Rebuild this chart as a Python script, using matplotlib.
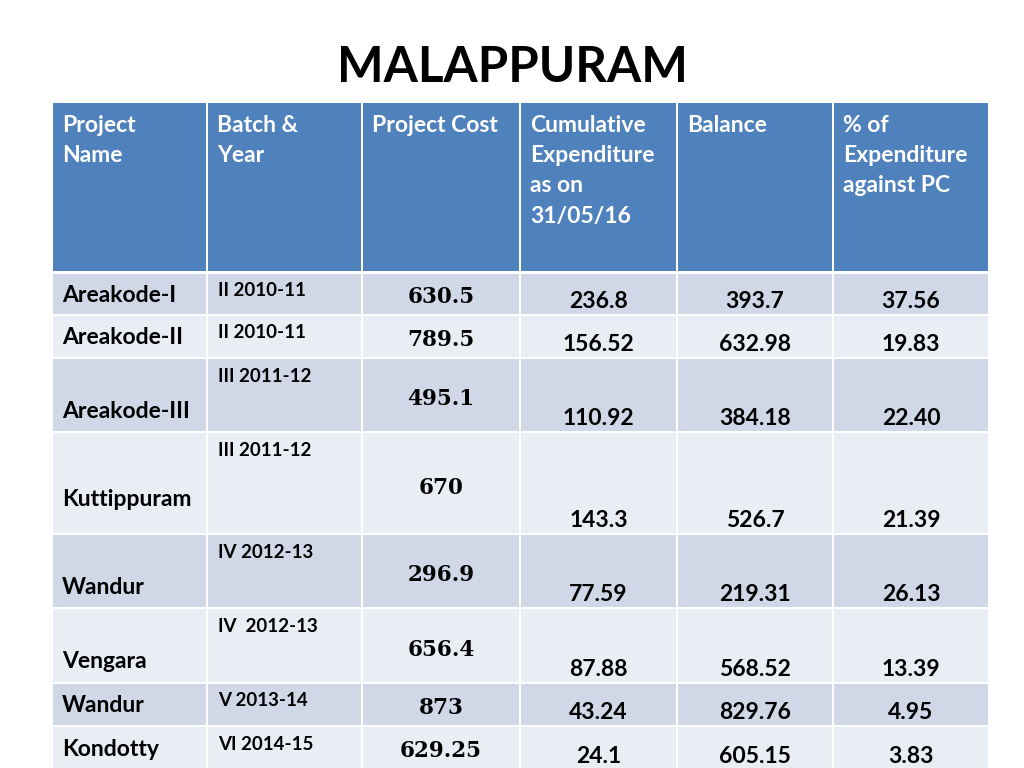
"""MALAPPURAM project expenditure table."""

import matplotlib.pyplot as plt
from matplotlib.patches import Rectangle

# table content
title = "MALAPPURAM"
headers = [
    "Project\nName",
    "Batch &\nYear",
    "Project Cost",
    "Cumulative\nExpenditure\nas on\n31/05/16",
    "Balance",
    "% of\nExpenditure\nagainst PC",
]
names = ["Areakode-I", "Areakode-II", "Areakode-III", "Kuttippuram",
         "Wandur", "Vengara", "Wandur", "Kondotty"]
batches = ["II 2010-11", "II 2010-11", "III 2011-12", "III 2011-12",
           "IV 2012-13", "IV  2012-13", "V 2013-14", "VI 2014-15"]
costs = ["630.5", "789.5", "495.1", "670", "296.9", "656.4", "873", "629.25"]
cumulative = ["236.8", "156.52", "110.92", "143.3", "77.59", "87.88", "43.24", "24.1"]
balance = ["393.7", "632.98", "384.18", "526.7", "219.31", "568.52", "829.76", "605.15"]
percent = ["37.56", "19.83", "22.40", "21.39", "26.13", "13.39", "4.95", "3.83"]

# layout (pixels)
col_edges = [52, 207, 362, 520, 677, 833, 989]
header_top, header_bottom = 103, 271
row_edges = [273, 315, 358, 432, 534, 608, 683, 726, 770]
name_lift = [20, 21, 21, 35, 21, 22, 21, 20]

HEADER = "#4F81BD"
ROW_DARK = "#D0D8E8"
ROW_LIGHT = "#E9EDF4"
SANS = ["Lato", "DejaVu Sans"]
SERIF = ["DejaVu Serif"]
FS = 16.5

fig = plt.figure(figsize=(10.24, 7.68), dpi=100)
ax = fig.add_axes([0, 0, 1, 1])
ax.set_xlim(0, 1024)
ax.set_ylim(768, 0)
ax.axis("off")

ax.text(512, 68, title, ha="center", va="center", fontsize=35.5,
        fontweight="bold", family=SANS, color="black")

gap = 1.2
# header cells
for j in range(6):
    x0, x1 = col_edges[j], col_edges[j + 1]
    ax.add_patch(Rectangle((x0 + gap, header_top), x1 - x0 - 2 * gap,
                           header_bottom - header_top, color=HEADER, lw=0))
    ax.text(x0 + 10, header_top + 12, headers[j], ha="left", va="top",
            fontsize=FS, fontweight="bold", family=SANS, color="white",
            linespacing=1.54)

# body cells
for i in range(len(names)):
    y0, y1 = row_edges[i], row_edges[i + 1]
    fill = ROW_DARK if i % 2 == 0 else ROW_LIGHT
    for j in range(6):
        x0, x1 = col_edges[j], col_edges[j + 1]
        ax.add_patch(Rectangle((x0 + gap, y0 + gap), x1 - x0 - 2 * gap,
                               y1 - y0 - 2 * gap, color=fill, lw=0))
    ax.text(col_edges[0] + 10, y1 - name_lift[i], names[i], ha="left",
            va="center", fontsize=FS, fontweight="bold", family=SANS)
    ax.text(col_edges[1] + 11, y0 + 18, batches[i], ha="left", va="center",
            fontsize=13.5, fontweight="bold", family=SANS)
    ax.text((col_edges[2] + col_edges[3]) / 2, y0 + 2 + 0.53 * (y1 - y0),
            costs[i], ha="center", va="center", fontsize=15.5,
            fontweight="bold", family=SERIF)
    for j, col in zip((3, 4, 5), (cumulative, balance, percent)):
        ax.text((col_edges[j] + col_edges[j + 1]) / 2, y1 - 13.5, col[i],
                ha="center", va="center", fontsize=FS, fontweight="bold",
                family=SANS)

fig.savefig("out.png", dpi=100)
